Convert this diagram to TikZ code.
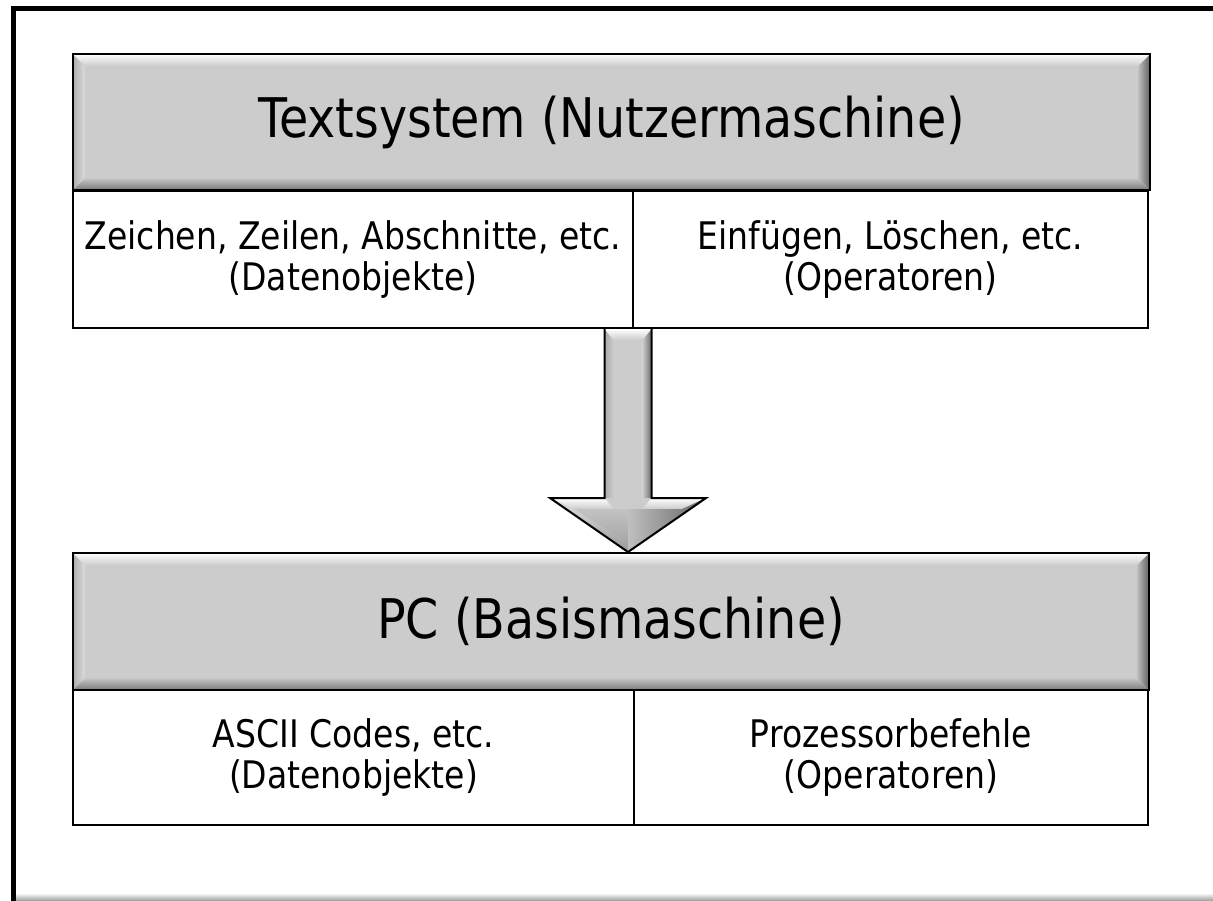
\documentclass[tikz,border=0pt]{standalone}
\usepackage{fontspec}
\newfontfamily\tah[FakeStretch=0.87]{DejaVu Sans}
\usetikzlibrary{calc}
\definecolor{hdrgray}{HTML}{CCCCCC}
\begin{document}
\begin{tikzpicture}[x=0.75pt,y=-0.75pt,
  hdr/.style={draw=black, line width=1.5pt, fill=hdrgray, inner sep=0pt,
    font=\tah\fontsize{41pt}{46pt}\selectfont,
    path picture={
      \path (path picture bounding box.north west) coordinate (pnw)
            (path picture bounding box.north east) coordinate (pne)
            (path picture bounding box.south west) coordinate (psw)
            (path picture bounding box.south east) coordinate (pse);
      \shade[left color=black!32, right color=black!14]
        (pnw) -- ([shift={(9pt,-9pt)}]pnw) -- ([shift={(9pt,9pt)}]psw) -- (psw) -- cycle;
      \shade[top color=black!22, bottom color=black!52]
        (psw) -- ([shift={(9pt,9pt)}]psw) -- ([shift={(-9pt,9pt)}]pse) -- (pse) -- cycle;
      \shade[left color=black!25, right color=black!62]
        (pne) -- (pse) -- ([shift={(-9pt,9pt)}]pse) -- ([shift={(-9pt,-9pt)}]pne) -- cycle;
      \shade[top color=white, bottom color=hdrgray]
        (pnw) -- (pne) -- ([shift={(-9pt,-9pt)}]pne) -- ([shift={(9pt,-9pt)}]pnw) -- cycle;
    }},
  cell/.style={draw=black, line width=1.5pt, fill=white, inner sep=0pt, align=center,
    font=\tah\fontsize{28.5pt}{31pt}\selectfont},
  arrowline/.style={draw=black, line width=1.5pt, line join=miter}
  ]
\useasboundingbox (0,0) rectangle (1213,900);
% slide frame
\shade[top color=white, bottom color=black!35] (16,893) rectangle (1213,900);
\draw[line width=4pt, line join=miter] (13.5,902) -- (13.5,8.5) -- (1215,8.5);

% upper machine
\node[cell, minimum width=420pt, minimum height=102.75pt] (c1l) at (353,259.5)
  {Zeichen, Zeilen, Abschnitte, etc.\\(Datenobjekte)};
\node[cell, minimum width=386.25pt, minimum height=102.75pt] (c1r) at (890.5,259.5)
  {Einfügen, Löschen, etc.\\(Operatoren)};
\node[hdr, minimum width=807.75pt, minimum height=102pt] (h1) at (611.5,122)
  {Textsystem (Nutzermaschine)};

% lower machine
\node[cell, minimum width=420.75pt, minimum height=101.25pt] (c2l) at (353.5,757.5)
  {ASCII Codes, etc.\\(Datenobjekte)};
\node[cell, minimum width=385.5pt, minimum height=101.25pt] (c2r) at (891,757.5)
  {Prozessorbefehle\\(Operatoren)};
\node[hdr, minimum width=807pt, minimum height=102.75pt] (h2) at (611,621.5)
  {PC (Basismaschine)};

% block arrow
\coordinate (at) at ($(c1l.south east)+(-6,0)$);
\coordinate (tip) at (h2.north -| at);
\coordinate (sl) at ($(at)+(-23.5,0)$);
\coordinate (sr) at ($(at)+(23.5,0)$);
\coordinate (bl) at ($(tip)+(-23.5,-54)$);
\coordinate (br) at ($(tip)+(23.5,-54)$);
\coordinate (bc) at ($(tip)+(0,-54)$);
\coordinate (wl) at ($(tip)+(-78,-54)$);
\coordinate (wr) at ($(tip)+(78,-54)$);
% shaft
\fill[hdrgray] (sl) rectangle (br);
\shade[left color=black!34, right color=hdrgray] (sl) rectangle ($(bl)+(9,0)$);
\shade[left color=hdrgray, right color=black!58] ($(sr)+(-9,0)$) rectangle (br);
\shade[top color=white, bottom color=hdrgray]
  (sl) -- (sr) -- ($(sr)+(-9,11)$) -- ($(sl)+(9,11)$) -- cycle;
% head
\fill[hdrgray] (wl) -- (wr) -- (tip) -- cycle;
\shade[top color=white, bottom color=hdrgray]
  (wl) -- (bl) -- ($(bl)+(9,11)$) -- ($(wl)+(24,11)$) -- cycle;
\shade[top color=white, bottom color=hdrgray]
  (wr) -- (br) -- ($(br)+(-9,11)$) -- ($(wr)+(-24,11)$) -- cycle;
\shade[top color=hdrgray, bottom color=black!35]
  ($(wl)+(24,11)$) -- ($(bl)+(9,11)$) -- (bc) -- ($(tip)+(0,-9)$) -- cycle;
\shade[left color=black!25, right color=black!60]
  ($(wr)+(-24,11)$) -- ($(br)+(-9,11)$) -- (bc) -- ($(tip)+(0,-9)$) -- (tip) -- (wr) -- cycle;
\shade[top color=black!12, bottom color=black!40]
  (wl) -- ($(wl)+(24,11)$) -- ($(tip)+(0,-9)$) -- (tip) -- cycle;
\fill[hdrgray] ($(bl)+(9,11)$) -- ($(br)+(-9,11)$) -- (bc) -- cycle;
\draw[arrowline] (sl) -- (bl) -- (wl) -- (tip) -- (wr) -- (br) -- (sr);
\end{tikzpicture}
\end{document}
